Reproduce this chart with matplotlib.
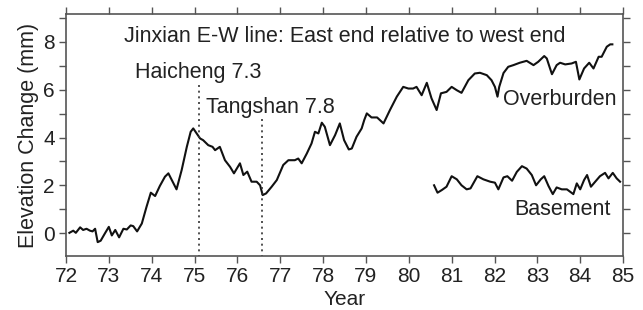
import matplotlib
matplotlib.use("Agg")
import matplotlib.pyplot as plt
from matplotlib.ticker import MultipleLocator

plt.rcParams['font.family'] = ['Liberation Sans', 'DejaVu Sans']

over_year = [72.08, 72.17, 72.23, 72.33, 72.40, 72.48, 72.56, 72.62, 72.68, 72.74,
             72.81, 72.91, 73.00, 73.07, 73.15, 73.24, 73.34, 73.42, 73.51, 73.57,
             73.66, 73.77, 73.88, 73.98, 74.08, 74.19, 74.31, 74.39, 74.58, 74.70,
             74.82, 74.91, 74.97, 75.05, 75.13, 75.20, 75.32, 75.42, 75.48, 75.59,
             75.71, 75.83, 75.92, 76.06, 76.14, 76.23, 76.33, 76.45, 76.53, 76.59,
             76.67, 76.80, 76.92, 77.07, 77.19, 77.34, 77.42, 77.50, 77.62, 77.73,
             77.81, 77.89, 77.97, 78.04, 78.16, 78.28, 78.39, 78.49, 78.60, 78.67,
             78.78, 78.90, 78.96, 79.02, 79.13, 79.26, 79.41, 79.56, 79.72, 79.87,
             79.99, 80.10, 80.18, 80.30, 80.42, 80.53, 80.65, 80.75, 80.88, 81.00,
             81.12, 81.23, 81.39, 81.54, 81.66, 81.82, 81.93, 82.01, 82.07, 82.11,
             82.21, 82.32, 82.44, 82.59, 82.75, 82.91, 83.02, 83.16, 83.22, 83.34,
             83.45, 83.53, 83.65, 83.80, 83.90, 83.98, 84.09, 84.21, 84.31, 84.43,
             84.50, 84.62, 84.70, 84.75]
over_val = [0.01, 0.10, 0.01, 0.24, 0.13, 0.18, 0.10, 0.07, 0.18, -0.38,
            -0.32, -0.01, 0.26, -0.10, 0.13, -0.18, 0.18, 0.15, 0.32, 0.29,
            0.07, 0.40, 1.10, 1.69, 1.55, 1.97, 2.36, 2.50, 1.83, 2.64,
            3.61, 4.24, 4.38, 4.17, 3.96, 3.89, 3.68, 3.61, 3.47, 3.61,
            3.05, 2.77, 2.50, 2.92, 2.43, 2.57, 2.15, 2.15, 2.00, 1.59,
            1.66, 1.94, 2.22, 2.85, 3.05, 3.05, 3.12, 2.92, 3.33, 3.75,
            4.24, 4.17, 4.62, 4.45, 3.68, 4.10, 4.59, 3.89, 3.50, 3.54,
            4.03, 4.38, 4.73, 5.01, 4.84, 4.84, 4.59, 5.15, 5.71, 6.12,
            6.05, 6.05, 6.12, 5.77, 6.29, 5.64, 5.15, 5.85, 5.91, 6.12,
            5.98, 5.87, 6.40, 6.68, 6.71, 6.61, 6.40, 6.12, 5.71, 6.12,
            6.70, 6.96, 7.03, 7.13, 7.21, 7.03, 7.17, 7.41, 7.31, 6.65,
            7.03, 7.13, 7.06, 7.10, 7.17, 6.43, 6.89, 7.13, 6.89, 7.38,
            7.38, 7.80, 7.90, 7.90]

base_year = [80.59, 80.67, 80.77, 80.88, 81.00, 81.12, 81.23, 81.35, 81.44, 81.60,
             81.74, 81.90, 82.01, 82.09, 82.21, 82.30, 82.41, 82.52, 82.64, 82.75,
             82.87, 82.97, 83.08, 83.16, 83.26, 83.36, 83.45, 83.57, 83.69, 83.84,
             83.92, 84.00, 84.09, 84.16, 84.25, 84.35, 84.46, 84.58, 84.66, 84.76,
             84.85, 84.93]
base_val = [2.00, 1.69, 1.80, 1.94, 2.38, 2.25, 2.00, 1.83, 1.87, 2.38,
            2.25, 2.15, 2.11, 1.83, 2.33, 2.38, 2.19, 2.56, 2.80, 2.70,
            2.43, 2.00, 2.25, 2.38, 1.97, 1.63, 1.91, 1.83, 1.83, 1.63,
            2.08, 1.83, 2.22, 2.43, 1.94, 2.15, 2.38, 2.52, 2.29, 2.52,
            2.29, 2.15]

quake_names = ["Haicheng 7.3", "Tangshan 7.8"]
quake_years = [75.10, 76.57]
quake_tops = [6.3, 4.8]

year_ticks = list(range(72, 86))

fig = plt.figure(figsize=(6.43, 3.10), dpi=100)
ax = fig.add_axes([0.1026, 0.1742, 0.8664, 0.7806])

ax.plot(over_year, over_val, color='#111111', lw=1.5)
ax.plot(base_year, base_val, color='#111111', lw=1.5)

for yr, top in zip(quake_years, quake_tops):
    ax.plot([yr, yr], [-1.0, top], color='#333333', lw=1.2, ls=(0, (1.2, 2.2)))

txt = dict(color='#222222', fontsize=15.5)
ax.text(78.5, 8.22, "Jinxian E-W line: East end relative to west end", ha='center', va='center', **txt)
ax.text(75.09, 6.72, quake_names[0], ha='center', va='center', **txt)
ax.text(76.78, 5.25, quake_names[1], ha='center', va='center', **txt)
ax.text(83.53, 5.6, "Overburden", ha='center', va='center', **txt)
ax.text(83.58, 1.0, "Basement", ha='center', va='center', **txt)

ax.set_xlim(72, 85)
ax.set_ylim(-0.96, 9.17)
ax.set_xticks(year_ticks)
ax.set_yticks([0, 2, 4, 6, 8])
ax.yaxis.set_minor_locator(MultipleLocator(1))
ax.tick_params(which='both', direction='out', length=5, width=1, color='#555555',
               top=True, right=True, labelsize=15, labelcolor='#222222', pad=3)
for s in ax.spines.values():
    s.set_color('#555555')
    s.set_linewidth(1.2)

ax.set_xlabel("Year", fontsize=15, color='#222222', labelpad=3)
ax.set_ylabel("Elevation Change (mm)", fontsize=15.5, color='#222222', labelpad=3)

fig.savefig("out.png", dpi=100)
